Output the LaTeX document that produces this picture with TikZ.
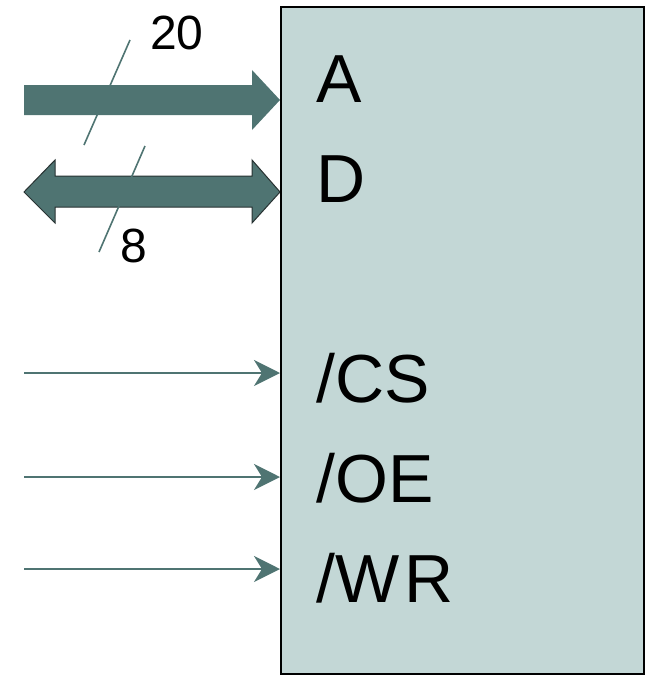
\documentclass[tikz,border=0pt]{standalone}
\usepackage{fontspec}
\setmainfont{Liberation Sans}
\usetikzlibrary{arrows.meta,backgrounds}
\definecolor{teal1}{RGB}{79,116,114}
\definecolor{boxfill}{RGB}{195,215,214}
\definecolor{edge1}{RGB}{40,50,50}
\begin{document}
\begin{tikzpicture}[x=1pt,y=-1pt,
  pin/.style={anchor=base west,inner sep=0pt,font=\fontsize{68}{80}\selectfont},
  width/.style={anchor=base west,inner sep=0pt,font=\fontsize{48}{56}\selectfont},
  ctrl/.style={draw=teal1,line width=2.2pt,-{Stealth[length=26pt,width=26pt,inset=8pt]}},
  tick/.style={draw=teal1,line width=1.6pt},
  bus/.style={fill=teal1}]
\useasboundingbox (0,0) rectangle (654,677);
\node[draw=black,fill=boxfill,line width=2pt,minimum width=363pt,minimum height=667pt,inner sep=0pt] (box) at (462.5,340.5) {};
\node[pin] (lA) at (316,102) {A};
\node[pin] (lD) at (316,202) {D};
\node[pin] (lCS) at (316,402) {/CS};
\node[pin] (lOE) at (316,502) {/OE};
\node[pin] (lWR) at (316,602) {/W\kern5pt R};
\node[width] (n20) at (150,50) {20};
\node[width] (n8) at (120,262) {8};
\coordinate (cs0) at (24,373);
\coordinate (oe0) at (24,477);
\coordinate (wr0) at (24,569);
\begin{scope}[on background layer]
\fill[bus] (24,85) -- (252,85) -- (252,70) -- (box.west |- 0,100) -- (252,130) -- (252,115) -- (24,115) -- cycle;
\filldraw[bus,draw=edge1,line width=1pt] (24,192) -- (55,160) -- (55,176) -- (252,176) -- (252,160) -- (box.west |- 0,192) -- (252,223) -- (252,207) -- (55,207) -- (55,223) -- cycle;
\end{scope}
\draw[tick] (130,40) -- (84,145);
\draw[tick] (145,146) -- (99,252);
\draw[ctrl] (cs0) -- (box.west |- cs0);
\draw[ctrl] (oe0) -- (box.west |- oe0);
\draw[ctrl] (wr0) -- (box.west |- wr0);
\end{tikzpicture}
\end{document}
